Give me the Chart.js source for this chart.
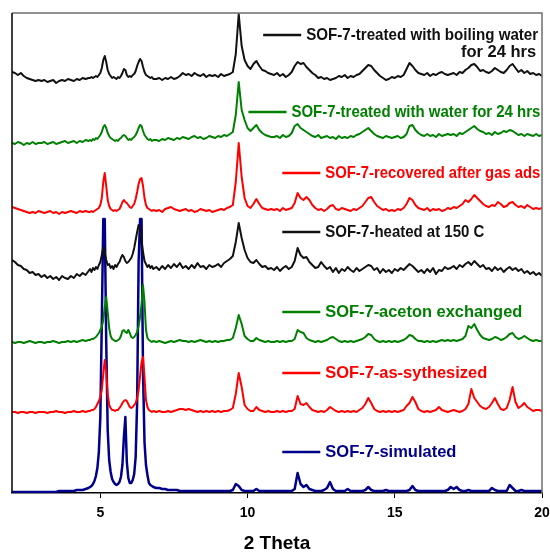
<!DOCTYPE html>
<html>
<head>
<meta charset="utf-8">
<script src="https://cdn.jsdelivr.net/npm/chart.js@4.4.1/dist/chart.umd.min.js"></script>
<style>
  html, body { margin: 0; padding: 0; background: #fff; }
  #xrd { display: block; }
</style>
</head>
<body>
<canvas id="xrd" width="550" height="553"></canvas>
<script>
// 2 theta grid: 0.1 steps, 0.05 steps around the low-angle peaks
var theta = [];
for (var i = 0; i <= 26; i++) theta.push(+(2 + i * 0.1).toFixed(2));     // 2.0 .. 4.6
for (var i = 1; i <= 44; i++) theta.push(+(4.6 + i * 0.05).toFixed(2));  // 4.65 .. 6.8
for (var i = 1; i <= 132; i++) theta.push(+(6.8 + i * 0.1).toFixed(2));  // 6.9 .. 20.0

var xTickValues = [5, 10, 15, 20];

var sampleNames = [
  ['SOF-7-treated with boiling water', 'for 24 hrs'],
  ['SOF-7-treated with water for 24 hrs'],
  ['SOF-7-recovered after gas ads'],
  ['SOF-7-heated at 150 C'],
  ['SOF-7-aceton exchanged'],
  ['SOF-7-as-sythesized'],
  ['SOF-7-simulated']
];
var sampleColors = ['#111111', '#008000', '#ff0000', '#111111', '#008000', '#ff0000', '#00008b'];

// stacking offset of each pattern (intensity units)
var stackOffset = [415, 353, 281, 223, 151, 81, 1];

// intensities above each pattern's baseline
var boilingWater = [
  6,5,3,5,2,0,-1,-2,-3,-2,
  -3,-2,-4,-3,-2,-5,-3,-2,-3,-1,
  -2,-3,-1,-2,0,-1,0,
  0,1,0,1,2,1,3,5,10,18,
  22,16,8,4,2,0,1,0,-1,1,
  0,2,5,9,8,3,1,2,1,3,
  4,7,12,16,19,17,11,6,3,2,
  1,0,1,-1,
  -1,0,-2,0,-1,1,-1,0,2,5,
  3,4,2,5,3,2,4,1,3,2,
  3,1,4,2,3,4,6,24,64,32,
  18,12,9,14,17,12,8,7,5,4,
  3,5,2,4,1,3,6,12,16,14,
  15,11,8,5,3,0,1,-1,0,-2,
  -1,0,2,1,3,0,2,1,3,4,
  7,10,13,12,8,5,2,0,-2,-1,
  1,0,2,1,3,9,15,12,8,5,
  4,3,5,2,4,3,5,6,4,3,
  4,5,3,6,5,8,10,13,14,11,
  7,8,6,5,7,10,8,6,5,8,
  12,14,10,6,8,5,7,4,5,3,
  4,2
];
var water24h = [
  -3,-4,-2,-3,-5,-3,-4,-2,-4,-3,
  -3,-2,-4,-3,-2,-4,-3,-2,-1,-3,
  -2,-1,-3,-1,-2,0,-1,
  0,-1,1,0,2,1,3,5,8,13,
  15,12,7,4,2,1,0,-1,0,-1,
  1,2,4,5,4,2,0,1,0,2,
  3,5,8,12,15,14,9,5,3,1,
  0,1,-1,0,
  0,-1,1,0,2,1,0,2,1,3,
  2,1,3,4,2,3,1,2,4,3,
  2,4,3,5,4,6,8,25,58,30,
  20,12,9,12,15,10,7,5,4,3,
  3,4,2,5,3,4,7,14,16,12,
  10,8,6,4,3,5,2,3,4,2,
  3,1,4,2,3,2,4,3,5,6,
  8,10,12,9,6,4,3,2,4,3,
  2,3,4,2,3,6,14,15,10,7,
  5,4,6,4,5,3,6,4,5,6,
  5,6,4,7,6,8,10,12,14,11,
  9,8,6,7,5,8,6,7,9,8,
  10,9,7,5,6,4,6,5,4,6,
  4,5
];
var recovered = [
  5,4,3,2,1,0,-1,0,-1,1,
  0,-1,0,1,-1,0,-2,0,-1,0,
  1,0,-1,1,0,1,0,
  0,1,0,1,2,3,4,7,14,30,
  39,26,12,6,3,2,1,2,1,2,
  3,6,10,12,10,9,7,5,4,6,
  8,13,20,28,33,34,26,14,7,4,
  3,2,1,2,
  1,2,0,3,4,5,3,2,1,2,
  3,1,2,0,1,3,2,1,2,0,
  1,2,3,2,4,5,7,30,69,35,
  14,6,4,8,13,8,4,3,2,3,
  2,3,1,4,2,3,4,9,19,14,
  12,15,12,7,4,2,3,1,3,6,
  7,3,2,4,3,2,1,3,2,4,
  6,10,14,15,10,6,4,2,3,1,
  2,1,3,2,4,8,14,12,7,4,
  3,2,4,1,3,2,3,1,2,4,
  3,5,4,6,8,12,10,13,17,14,
  11,8,6,5,7,6,10,8,5,6,
  9,10,7,5,6,4,7,5,3,4,
  3,4
];
var heated150 = [
  10,8,5,4,1,0,-3,-2,-5,-4,
  -7,-5,-8,-6,-9,-7,-10,-6,-8,-9,
  -6,-8,-4,-6,-3,-5,-1,
  1,-2,2,0,3,1,5,8,15,23,
  17,10,5,6,2,4,1,5,3,6,
  8,12,15,13,9,7,8,10,12,16,
  22,30,38,45,42,30,18,9,6,3,
  5,2,4,1,
  3,0,4,1,5,2,6,3,7,2,
  4,1,5,2,7,3,4,1,5,3,
  4,6,3,7,9,11,14,28,47,32,
  20,12,8,7,10,6,3,4,1,2,
  0,3,-1,2,4,1,3,9,22,15,
  12,13,8,5,2,3,8,4,1,3,
  -2,2,-3,1,-1,3,0,-2,2,-1,
  1,3,5,4,0,2,-3,1,-2,0,
  -3,1,-1,2,0,3,6,4,1,-2,
  0,-3,1,-2,2,-4,0,-1,3,1,
  2,4,1,5,3,6,8,5,9,6,
  3,5,1,2,-1,3,0,2,-2,1,
  3,0,2,-1,1,-3,-1,-4,-2,-5,
  -3,-6
];
var acetonExchanged = [
  0,-1,0,0,-1,0,1,0,-1,0,
  0,-1,0,0,1,0,-1,0,0,1,
  0,1,0,1,2,1,2,
  2,3,3,4,5,7,9,12,15,22,
  35,45,30,14,6,3,2,1,1,2,
  3,6,11,12,10,9,12,9,5,4,
  5,7,10,16,25,38,57,40,12,4,
  2,1,0,1,
  0,1,0,-1,0,1,0,1,2,1,
  1,0,1,0,1,2,1,0,1,0,
  1,0,1,1,2,2,4,14,27,18,
  6,3,1,1,4,2,1,0,1,0,
  0,1,0,1,0,1,1,3,12,10,
  9,4,2,1,0,1,0,1,2,4,
  5,3,1,0,1,0,1,0,1,2,
  3,5,8,7,3,1,0,1,0,1,
  0,1,0,1,2,4,7,6,3,1,
  1,0,1,0,1,0,1,2,1,2,
  1,2,1,2,3,6,16,14,18,12,
  7,4,3,2,3,5,4,2,3,5,
  8,9,5,3,4,6,4,2,1,2,
  1,1
];
var asSynthesized = [
  0,0,-1,0,0,-1,0,0,-1,0,
  0,0,-1,0,0,1,0,0,-1,0,
  0,1,0,0,1,0,1,
  1,2,2,3,5,8,11,15,22,38,
  52,40,18,7,4,2,2,1,2,2,
  4,6,9,11,12,11,8,5,4,5,
  7,9,14,22,36,50,55,35,12,5,
  2,1,0,1,
  0,1,0,0,1,0,1,2,3,3,
  2,3,2,1,0,1,0,1,0,1,
  0,1,0,1,1,2,4,18,39,25,
  7,3,1,1,5,2,1,0,1,0,
  0,1,0,1,0,1,1,3,16,8,
  7,9,5,2,1,0,1,0,2,5,
  3,1,0,1,0,1,0,1,0,2,
  4,8,14,9,3,1,0,1,0,1,
  0,1,0,1,2,6,9,15,10,3,
  1,0,1,0,1,2,5,2,1,0,
  1,2,1,0,1,3,8,23,14,10,
  6,4,3,5,9,14,8,3,2,4,
  12,25,10,4,6,9,5,3,1,2,
  2,1
];
var simulated = [
  0,0,0,0,0,0,0,0,0,0,
  0,0,0,0,0,0,1,1,1,1,
  1,1,2,2,2,3,4,
  5,6,8,11,16,24,40,75,170,273,
  273,150,62,32,20,13,10,8,7,8,
  10,15,27,55,75,30,14,9,9,12,
  18,35,90,230,273,273,120,50,27,17,
  9,7,6,5,
  4,4,3,3,2,2,2,2,1,1,
  1,1,1,1,1,1,1,1,1,1,
  1,1,1,1,1,1,2,8,6,2,
  1,1,1,1,3,1,1,1,1,1,
  1,1,1,1,1,1,1,3,19,8,
  5,7,3,2,1,1,1,2,4,10,
  3,1,1,1,1,3,1,1,1,1,
  1,2,5,2,1,1,1,1,2,1,
  1,1,1,1,1,1,2,6,2,1,
  1,1,1,1,1,1,1,1,1,2,
  5,3,5,2,1,1,2,1,1,1,
  1,1,1,1,4,2,1,1,1,1,
  7,4,1,1,2,1,1,1,1,1,
  1,1
];

var patterns = [boilingWater, water24h, recovered, heated150, acetonExchanged, asSynthesized, simulated];

var fontFamily = '"Liberation Sans", Arial, Helvetica, sans-serif';

var datasets = patterns.map(function (vals, k) {
  return {
    label: sampleNames[k].join(' '),
    data: theta.map(function (t, i) { return { x: t, y: stackOffset[k] + vals[i] }; }),
    borderColor: sampleColors[k],
    borderWidth: k === 6 ? 2.5 : 2,
    pointRadius: 0,
    tension: 0,
    fill: false,
    borderJoinStyle: 'round'
  };
});

// where each inline legend entry sits (data units) and how wide its text runs
var labelSpots = [
  { x: 10.53, y: 458, w: 232 },
  { x: 10.03, y: 381, w: 249 },
  { x: 11.18, y: 320, w: 215 },
  { x: 11.18, y: 261, w: 159 },
  { x: 11.18, y: 181, w: 197 },
  { x: 11.18, y: 120, w: 162 },
  { x: 11.18, y: 41,  w: 132 }
];

var inlineLegend = {
  id: 'inlineLegend',
  afterDatasetsDraw: function (chart) {
    var ctx = chart.ctx, xs = chart.scales.x, ys = chart.scales.y;
    ctx.save();
    ctx.font = 'bold 16.5px ' + fontFamily;
    ctx.textBaseline = 'middle';
    labelSpots.forEach(function (s, k) {
      var px = xs.getPixelForValue(s.x);
      var py = ys.getPixelForValue(s.y);
      ctx.strokeStyle = sampleColors[k];
      ctx.lineWidth = 2.5;
      ctx.beginPath();
      ctx.moveTo(px, py);
      ctx.lineTo(px + 38, py);
      ctx.stroke();
      ctx.fillStyle = sampleColors[k];
      var lines = sampleNames[k];
      var tx = px + 43;
      ctx.textAlign = 'left';
      ctx.fillText(lines[0], tx, py, s.w);
      if (lines.length > 1) {
        var w0 = Math.min(ctx.measureText(lines[0]).width, s.w);
        ctx.textAlign = 'right';
        ctx.fillText(lines[1], tx + w0 - 2, py + 17);
      }
    });
    ctx.restore();
  }
};

var frameBox = {
  id: 'frameBox',
  afterDraw: function (chart) {
    var a = chart.chartArea, ctx = chart.ctx;
    ctx.save();
    ctx.strokeStyle = '#6e6e6e';
    ctx.lineWidth = 1.5;
    ctx.beginPath();
    ctx.moveTo(a.left, a.top);
    ctx.lineTo(a.right, a.top);
    ctx.lineTo(a.right, a.bottom);
    ctx.stroke();
    ctx.strokeStyle = '#000';
    ctx.beginPath();
    ctx.moveTo(a.left, a.top);
    ctx.lineTo(a.left, a.bottom);
    ctx.stroke();
    ctx.restore();
  }
};

var ctx = document.getElementById('xrd').getContext('2d');
var xrdChart = new Chart(ctx, {
  type: 'line',
  data: { datasets: datasets },
  options: {
    responsive: false,
    animation: false,
    layout: { padding: { left: 12, right: 8, top: 13, bottom: 0 } },
    plugins: { legend: { display: false }, tooltip: { enabled: false } },
    scales: {
      x: {
        type: 'linear',
        min: 2,
        max: 20,
        afterBuildTicks: function (s) { s.ticks = xTickValues.map(function (v) { return { value: v }; }); },
        afterFit: function (s) { s.height = 60; s.paddingLeft = 0; s.paddingRight = 0; },
        ticks: { color: '#000', font: { family: fontFamily, size: 14, weight: 'bold' }, padding: 7 },
        grid: { drawOnChartArea: false, drawTicks: true, tickLength: 5, color: '#000' },
        border: { color: '#000', width: 1.5 },
        title: {
          display: true,
          text: '2 Theta',
          color: '#000',
          font: { family: fontFamily, size: 19, weight: 'bold', lineHeight: 1 },
          padding: { top: 0, bottom: 0 }
        }
      },
      y: { display: false, min: 0, max: 480 }
    }
  },
  plugins: [inlineLegend, frameBox]
});
</script>
</body>
</html>
